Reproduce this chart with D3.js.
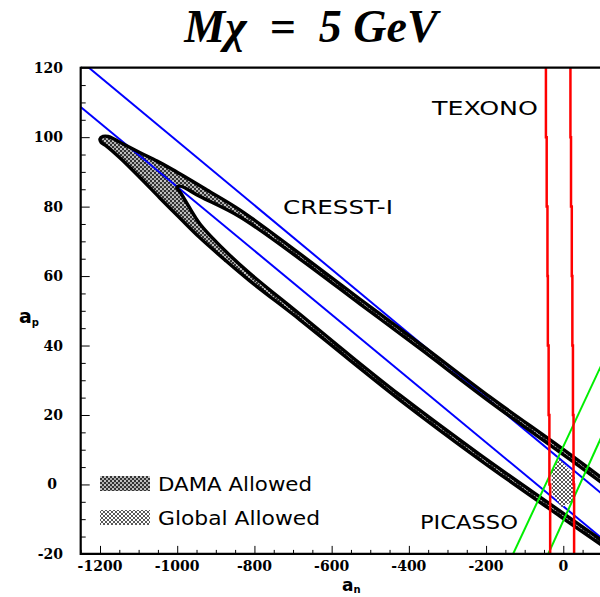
<!DOCTYPE html>
<html><head><meta charset="utf-8">
<script src="https://cdn.jsdelivr.net/npm/d3@7"></script>
<style>body{margin:0;background:#fff} svg{display:block}</style>
</head><body>
<svg id="c" width="600" height="597"></svg>
<script>
// ---------- data ----------
const xTicks = [-1200, -1000, -800, -600, -400, -200, 0];
const xMinorTicks = [-1250,-1150,-1100,-1050,-950,-900,-850,-750,-700,-650,-550,-500,-450,-350,-300,-250,-150,-100,-50,50];
const yTicks = [-20, 0, 20, 40, 60, 80, 100, 120];
const yMinorTicks = [-15,-10,-5,5,10,15,25,30,35,45,50,55,65,70,75,85,90,95,105,110,115];

// CRESST-I bounds (a_n, a_p)
const cresstUpper = [[-1231, 120.2], [100, -2.7]];
const cresstLower = [[-1250, 108.7], [100, -15.5]];
// PICASSO bounds
const picassoLeft = [[-130, -20], [100, 34.7]];
const picassoRight = [[-39, -20], [100, 14]];
// TEXONO bounds
const texonoLevels = [120, 100, 80, 60, 40, 20, 0, -20];
const texonoLeft = [-45, -43, -41, -40, -38, -36, -34, -32];
const texonoRight = [18.5, 20, 22, 23.5, 25, 26.5, 28, 30];

// DAMA allowed ring (outer contour then inner contour)
const damaOuterUpper = [[121,0.1],[-9,10.8],[-190,25.2],[-371,40.5],[-527,53.4],[-682,66.4],[-837,79.0],[-923,84.8],[-1011,90.6],[-1052,93.1],[-1096,95.5],[-1140,98.0],[-1161,99.3],[-1179,100.2],[-1192,100.2],[-1200,99.5]];
const damaOuterLower = [[-1197,98.5],[-1184,97.5],[-1148,94.0],[-1096,88.3],[-1045,82.5],[-993,76.7],[-941,71.0],[-876,64.6],[-812,58.6],[-682,47.4],[-553,35.8],[-423,24.3],[-216,7.1],[-9,-9.1],[121,-19.1]];
const damaInnerLower = [[121,-17.8],[-9,-7.6],[-216,8.6],[-423,25.7],[-553,37.2],[-682,49.0],[-812,60.8],[-876,67.3],[-941,75.0],[-967,79.5],[-993,84.3],[-1001,85.5]];
const damaInnerUpper = [[-993,85.9],[-941,82.9],[-837,77.0],[-682,64.9],[-527,52.0],[-371,39.1],[-190,23.8],[-9,9.3],[121,-1.2]];

// Global allowed region
const globalAllowed = [[-10.4,7.3],[30.2,2.4],[30.2,-4.5],[-4.2,-6.6],[-30.1,-2.4],[-30.1,4.0]];

const title = "Mχ  =  5 GeV";
const experimentLabels = ["TEXONO", "CRESST-I", "PICASSO"];
const legendLabels = ["DAMA Allowed", "Global Allowed"];

// ---------- layout ----------
const svg = d3.select("#c");
const X0 = 80.7, X1 = 601.9, Y0 = 553.9, Y1 = 67.7;
const x = d3.scaleLinear().domain([-1250, 100]).range([X0, X1]);
const y = d3.scaleLinear().domain([-20, 120]).range([Y0, Y1]);

const defs = svg.append("defs");
defs.append("clipPath").attr("id", "plot").append("rect")
  .attr("x", X0).attr("y", Y1).attr("width", X1 - X0).attr("height", Y0 - Y1);

const pd = defs.append("pattern").attr("id", "damaPat").attr("patternUnits", "userSpaceOnUse")
  .attr("width", 4).attr("height", 4);
pd.append("rect").attr("width", 4).attr("height", 4).attr("fill", "#333");
pd.append("circle").attr("cx", 1).attr("cy", 1).attr("r", 0.95).attr("fill", "#fff");
pd.append("circle").attr("cx", 3).attr("cy", 3).attr("r", 0.95).attr("fill", "#ddd");

const pg = defs.append("pattern").attr("id", "globPat").attr("patternUnits", "userSpaceOnUse")
  .attr("width", 4).attr("height", 4);
pg.append("rect").attr("width", 4).attr("height", 4).attr("fill", "#fff");
pg.append("path").attr("d", "M0,0L4,4M4,0L0,4").attr("stroke", "#111").attr("stroke-width", 0.7);

const line = d3.line().x(d => x(d[0])).y(d => y(d[1]));
const smooth = d3.line().x(d => x(d[0])).y(d => y(d[1])).curve(d3.curveCatmullRom.alpha(0.5));
const g = svg.append("g").attr("clip-path", "url(#plot)");

// DAMA ring fill
const outer = damaOuterUpper.concat(damaOuterLower);
const inner = damaInnerLower.concat(damaInnerUpper);
g.append("path").attr("d", smooth(outer) + "Z" + smooth(inner) + "Z")
  .attr("fill", "url(#damaPat)").attr("fill-rule", "evenodd").attr("stroke", "none");

// CRESST lines
[cresstUpper, cresstLower].forEach(l =>
  g.append("path").attr("d", line(l)).attr("stroke", "#0000ff").attr("stroke-width", 2).attr("fill", "none"));

// DAMA outline
[outer, inner].forEach(c =>
  g.append("path").attr("d", smooth(c))
    .attr("fill", "none").attr("stroke", "#000").attr("stroke-width", 3.4).attr("stroke-linejoin", "round"));

// Global allowed
g.append("path").attr("d", line(globalAllowed) + "Z").attr("fill", "url(#globPat)").attr("stroke", "none");

// PICASSO
[picassoLeft, picassoRight].forEach(l =>
  g.append("path").attr("d", line(l)).attr("stroke", "#00ee00").attr("stroke-width", 2).attr("fill", "none"));

// TEXONO
const stepLine = d3.line().x(d => x(d[0])).y(d => y(d[1])).curve(d3.curveStepBefore);
[texonoLeft, texonoRight].forEach(arr =>
  g.append("path").attr("d", stepLine(arr.map((v, i) => [v, texonoLevels[i]])))
    .attr("stroke", "#ff0000").attr("stroke-width", 2.5).attr("fill", "none"));

// ---------- axes ----------
const axG = svg.append("g");
axG.append("line").attr("x1", X0).attr("x2", X1).attr("y1", Y1).attr("y2", Y1).attr("stroke", "#000").attr("stroke-width", 2.2);
axG.append("line").attr("x1", X0).attr("x2", X1).attr("y1", Y0).attr("y2", Y0).attr("stroke", "#000").attr("stroke-width", 2.2);
axG.append("line").attr("x1", X0).attr("x2", X0).attr("y1", Y1 - 1).attr("y2", Y0 + 1).attr("stroke", "#000").attr("stroke-width", 2.2);

function ticks(g2, axis) { g2.call(axis); g2.select(".domain").remove(); g2.selectAll("line").attr("stroke", "#000").attr("stroke-width", 1); }
axG.append("g").attr("transform", `translate(0,${Y0})`)
  .call(g2 => ticks(g2, d3.axisTop(x).tickValues(xTicks).tickSize(8).tickFormat("")));
axG.append("g").attr("transform", `translate(0,${Y0})`)
  .call(g2 => ticks(g2, d3.axisTop(x).tickValues(xMinorTicks).tickSize(4).tickFormat("")));
axG.append("g").attr("transform", `translate(${X0},0)`)
  .call(g2 => ticks(g2, d3.axisRight(y).tickValues(yTicks).tickSize(9).tickFormat("")));
axG.append("g").attr("transform", `translate(${X0},0)`)
  .call(g2 => ticks(g2, d3.axisRight(y).tickValues(yMinorTicks).tickSize(5).tickFormat("")));

const tickFont = "'DejaVu Serif', serif";
svg.append("g").selectAll("text").data(xTicks).join("text")
  .attr("x", d => x(d)).attr("y", 571).attr("text-anchor", "middle")
  .attr("font-family", tickFont).attr("font-weight", "bold").attr("font-size", 14)
  .text(d => String(d));
svg.append("g").selectAll("text").data(yTicks).join("text")
  .attr("x", d => d === 0 ? 57 : 63).attr("y", d => y(d) + 5).attr("text-anchor", "end")
  .attr("font-family", tickFont).attr("font-weight", "bold").attr("font-size", 14)
  .text(d => String(d));

// axis titles
const xt = svg.append("text").attr("x", 342).attr("y", 591)
  .attr("font-family", "'DejaVu Sans', sans-serif").attr("font-weight", "bold").attr("font-size", 17);
xt.append("tspan").text("a");
xt.append("tspan").attr("font-size", 10).attr("dy", 2).text("n");
const yt = svg.append("text").attr("x", 19).attr("y", 323)
  .attr("font-family", "'DejaVu Sans', sans-serif").attr("font-weight", "bold").attr("font-size", 19);
yt.append("tspan").text("a");
yt.append("tspan").attr("font-size", 10).attr("dy", 3).text("p");

// title
svg.append("text").attr("x", 311).attr("y", 42).attr("text-anchor", "middle")
  .attr("font-family", "'Liberation Serif', 'Times New Roman', serif")
  .attr("font-weight", "bold").attr("font-style", "italic").attr("font-size", 46)
  .style("white-space", "pre").text(title);

// experiment labels
const labFont = "'DejaVu Sans', sans-serif";
const labPos = [[432, 115, 106], [283, 214, 110], [420, 529, 98]];
experimentLabels.forEach((t, i) => {
  svg.append("text").attr("x", labPos[i][0]).attr("y", labPos[i][1])
    .attr("font-family", labFont).attr("font-size", 20)
    .attr("textLength", labPos[i][2]).attr("lengthAdjust", "spacingAndGlyphs").text(t);
});

// legend
const legPos = [[476, 491, 154, "url(#damaPat)"], [510, 525, 162, "url(#globPat)"]];
legendLabels.forEach((t, i) => {
  svg.append("rect").attr("x", 100).attr("y", legPos[i][0]).attr("width", 50).attr("height", 15)
    .attr("fill", legPos[i][3]);
  svg.append("text").attr("x", 158).attr("y", legPos[i][1])
    .attr("font-family", labFont).attr("font-size", 20)
    .attr("textLength", legPos[i][2]).attr("lengthAdjust", "spacingAndGlyphs").text(t);
});
</script>
</body></html>
